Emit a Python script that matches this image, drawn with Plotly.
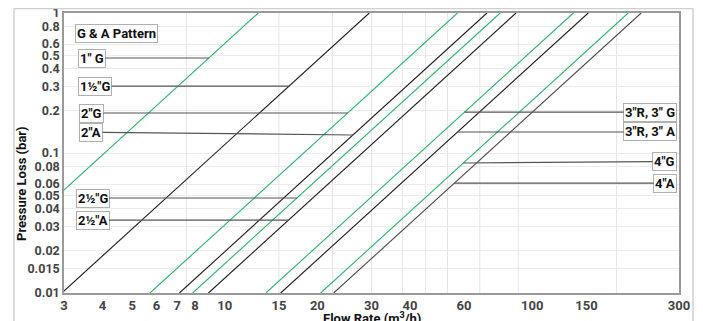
import numpy as np
import plotly.graph_objects as go

# ---- data ----
series_names = ['1" G', '1½"G', '2"G', '2"A', '2½"G', '2½"A',
                '3"R, 3" G', '3"R, 3" A', '4"G', '4"A']
# flow (m3/h) at which each curve reaches 1 bar (pressure loss ~ Q^2)
flow_at_1bar = [12.85, 29.5, 57.1, 71.2, 78.6, 88.5, 136, 152, 205, 226]
series_colors = ['#2bb56a', '#1a1a1a', '#2bb56a', '#1a1a1a', '#2bb56a', '#1a1a1a',
                 '#2bb56a', '#1a1a1a', '#2bb56a', '#4a4a4a']
# pressure (bar) where each label's leader line meets its curve
label_pressure = [0.477, 0.30, 0.193, 0.1345, 0.0477, 0.0332, 0.196, 0.1413, 0.0848, 0.0610]
label_side = ['left'] * 6 + ['right'] * 4

x_ticks = [3, 4, 5, 6, 7, 8, 10, 15, 20, 30, 40, 60, 100, 150, 300]
y_ticks = [0.01, 0.015, 0.02, 0.03, 0.04, 0.05, 0.06, 0.08, 0.1, 0.2, 0.3, 0.4, 0.5, 0.6, 0.8, 1]
y_tick_text = ['0.01', '0.015', '0.02', '0.03', '0.04', '0.05', '0.06', '0.08', '0.1',
               '0.2', '0.3', '0.4', '0.5', '0.6', '0.8', '1']
x_grid = [7.5, 15, 22.4, 30, 37.8, 45, 53, 67.5, 90, 188]

pressures = [0.01, 1.0]

FONT = 'Roboto'
fig = go.Figure()
for name, q1, col in zip(series_names, flow_at_1bar, series_colors):
    q = [q1 * np.sqrt(p) for p in pressures]
    fig.add_trace(go.Scatter(x=q, y=pressures, mode='lines', name=name,
                             line=dict(color=col, width=1.1), showlegend=False,
                             hoverinfo='skip'))

# label offsets (layout only)
left_edge = {'1" G': 3.33, '1½"G': 3.33, '2"G': 3.36, '2"A': 3.36, '2½"G': 3.27, '2½"A': 3.27}
box_shift = {'2"A': 0.021, '4"G': 0.011}
for name, q1, p, side in zip(series_names, flow_at_1bar, label_pressure, label_side):
    tip_q = q1 * np.sqrt(p)
    if side == 'left':
        ax = np.log10(left_edge[name]); xanchor = 'left'
    else:
        ax = np.log10(296); xanchor = 'right'
    fig.add_annotation(x=np.log10(tip_q), y=np.log10(p), xref='x', yref='y',
                       ax=ax, ay=np.log10(p) + box_shift.get(name, 0), axref='x', ayref='y',
                       text=name, showarrow=True, arrowhead=0, arrowwidth=1.2,
                       arrowcolor='#555555', standoff=0, startstandoff=0,
                       xanchor=xanchor, yanchor='middle',
                       font=dict(family=FONT, size=13, color='#111111', weight='bold'),
                       bgcolor='white', bordercolor='#b0b0b0', borderwidth=1, borderpad=1)

fig.add_annotation(x=np.log10(3.26), y=np.log10(0.71), xref='x', yref='y',
                   text='G & A Pattern', showarrow=False, xanchor='left', yanchor='middle',
                   font=dict(family=FONT, size=13, color='#111111', weight='bold'),
                   bgcolor='white', bordercolor='#b0b0b0', borderwidth=1, borderpad=1)

# axis titles
fig.add_annotation(x=-0.068, y=0.39, xref='paper', yref='paper', text='Pressure Loss (bar)',
                   textangle=-90, showarrow=False, xanchor='center', yanchor='middle',
                   font=dict(family=FONT, size=13, color='#111111', weight='bold'))
fig.add_annotation(x=0.5, y=-0.054, xref='paper', yref='paper', text='Flow Rate (m<sup>3</sup>/h)',
                   showarrow=False, xanchor='center', yanchor='top',
                   font=dict(family=FONT, size=13, color='#111111', weight='bold'))

for g in x_grid:
    fig.add_shape(type='line', xref='x', yref='paper', x0=g, x1=g, y0=0, y1=1,
                  line=dict(color='#e6e6e6', width=1), layer='below')

# outer frame
fr = dict(color='#d0d0d0', width=1.5)
fig.add_shape(type='line', xref='paper', yref='paper', x0=-0.0813, x1=-0.0813, y0=-0.3, y1=1.016, line=fr)
fig.add_shape(type='line', xref='paper', yref='paper', x0=-0.0813, x1=1.0228, y0=1.016, y1=1.016, line=fr)
fig.add_shape(type='line', xref='paper', yref='paper', x0=1.0228, x1=1.0228, y0=-0.3, y1=1.016, line=fr)

fig.update_xaxes(type='log', range=[np.log10(3), np.log10(300)], tickvals=x_ticks,
                 ticktext=[str(v) for v in x_ticks], showgrid=False, automargin=False,
                 showline=True, linecolor='#9a9a9a', linewidth=1.5, mirror=True,
                 ticks='', tickfont=dict(family=FONT, size=13, color='#444444', weight='bold'),
                 ticklabeloverflow='allow', zeroline=False)
fig.update_yaxes(type='log', range=[-2, 0], tickvals=y_ticks, ticktext=y_tick_text,
                 showgrid=True, gridcolor='#ececec', gridwidth=1, automargin=False,
                 showline=True, linecolor='#9a9a9a', linewidth=1.5, mirror=True,
                 ticks='', tickfont=dict(family=FONT, size=12.5, color='#444444', weight='bold'),
                 ticklabeloverflow='allow', zeroline=False)

# page body has an 8px margin, so the figure is sized/offset to land the plot area correctly
fig.update_layout(width=695, height=313, margin=dict(l=56, r=24, t=5, b=28),
                  paper_bgcolor='white', plot_bgcolor='white', showlegend=False)

fig.write_html('out.html')
